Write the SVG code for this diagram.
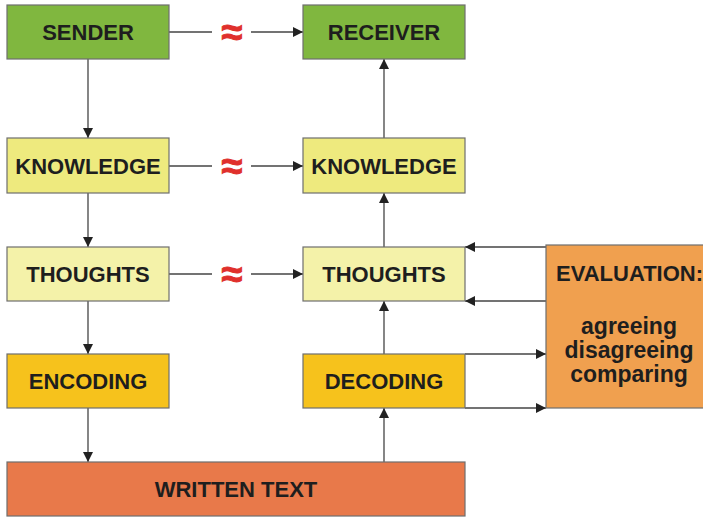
<svg xmlns="http://www.w3.org/2000/svg" width="703" height="517" viewBox="0 0 703 517">
<defs>
<marker id="ah" viewBox="0 0 10 10" refX="10" refY="5" markerWidth="10" markerHeight="10" markerUnits="userSpaceOnUse" orient="auto">
<path d="M0,0 L10,5 L0,10 z" fill="#222"/>
</marker>
</defs>
<style>
.box{stroke:#6e6e6e;stroke-width:1.2}
.green{fill:#80b73f}
.yel{fill:#eeea7e}
.lyel{fill:#f4f2a9}
.gold{fill:#f6c21c}
.org{fill:#e8794a}
.eval{fill:#f0a04f}
.t{font-family:"Liberation Sans",Arial,sans-serif;font-weight:bold;font-size:22px;fill:#1e1e1e;text-anchor:middle}
.ap{font-family:"Liberation Sans",Arial,sans-serif;font-weight:bold;font-size:38px;fill:#e0302c;stroke:#e0302c;stroke-width:1;text-anchor:middle}
.c{stroke:#444;stroke-width:1.3;fill:none}
.ca{stroke:#444;stroke-width:1.3;fill:none;marker-end:url(#ah)}
</style>
<rect width="703" height="517" fill="#fff"/>
<g id="connectors">
<line class="c" x1="169" y1="32" x2="212" y2="32"/>
<line class="ca" x1="251" y1="32" x2="303" y2="32"/>
<line class="c" x1="169" y1="166" x2="212" y2="166"/>
<line class="ca" x1="251" y1="166" x2="303" y2="166"/>
<line class="c" x1="169" y1="274" x2="212" y2="274"/>
<line class="ca" x1="251" y1="274" x2="303" y2="274"/>
<text class="ap" x="232" y="45">≈</text>
<text class="ap" x="232" y="179">≈</text>
<text class="ap" x="232" y="287">≈</text>
<line class="ca" x1="88" y1="59" x2="88" y2="138"/>
<line class="ca" x1="88" y1="193" x2="88" y2="247"/>
<line class="ca" x1="88" y1="301" x2="88" y2="354"/>
<line class="ca" x1="88" y1="408" x2="88" y2="462"/>
<line class="ca" x1="384" y1="462" x2="384" y2="408"/>
<line class="ca" x1="384" y1="354" x2="384" y2="301"/>
<line class="ca" x1="384" y1="247" x2="384" y2="193"/>
<line class="ca" x1="384" y1="138" x2="384" y2="59"/>
<line class="ca" x1="546" y1="247" x2="465" y2="247"/>
<line class="ca" x1="546" y1="301" x2="465" y2="301"/>
<line class="ca" x1="465" y1="354" x2="546" y2="354"/>
<line class="ca" x1="465" y1="408" x2="546" y2="408"/>
</g>
<g id="sender"><rect class="box green" x="7" y="5" width="162" height="54"/><text class="t" x="88" y="40">SENDER</text></g>
<g id="receiver"><rect class="box green" x="303" y="5" width="162" height="54"/><text class="t" x="384" y="40">RECEIVER</text></g>
<g id="knowledge-s"><rect class="box yel" x="7" y="138" width="162" height="55"/><text class="t" x="88" y="174">KNOWLEDGE</text></g>
<g id="knowledge-r"><rect class="box yel" x="303" y="138" width="162" height="55"/><text class="t" x="384" y="174">KNOWLEDGE</text></g>
<g id="thoughts-s"><rect class="box lyel" x="7" y="247" width="162" height="54"/><text class="t" x="88" y="282">THOUGHTS</text></g>
<g id="thoughts-r"><rect class="box lyel" x="303" y="247" width="162" height="54"/><text class="t" x="384" y="282">THOUGHTS</text></g>
<g id="encoding"><rect class="box gold" x="7" y="354" width="162" height="54"/><text class="t" x="88" y="389">ENCODING</text></g>
<g id="decoding"><rect class="box gold" x="303" y="354" width="162" height="54"/><text class="t" x="384" y="389">DECODING</text></g>
<g id="written-text"><rect class="box org" x="7" y="462" width="458" height="54"/><text class="t" x="236" y="497">WRITTEN TEXT</text></g>
<g id="evaluation"><rect class="box eval" x="546" y="245" width="160" height="163"/>
<text class="t" x="556" y="281" style="text-anchor:start">EVALUATION:</text>
<text class="t" x="629" y="334" style="font-size:23px">agreeing</text>
<text class="t" x="629" y="358" style="font-size:23px">disagreeing</text>
<text class="t" x="629" y="382" style="font-size:23px">comparing</text>
</g>
</svg>
